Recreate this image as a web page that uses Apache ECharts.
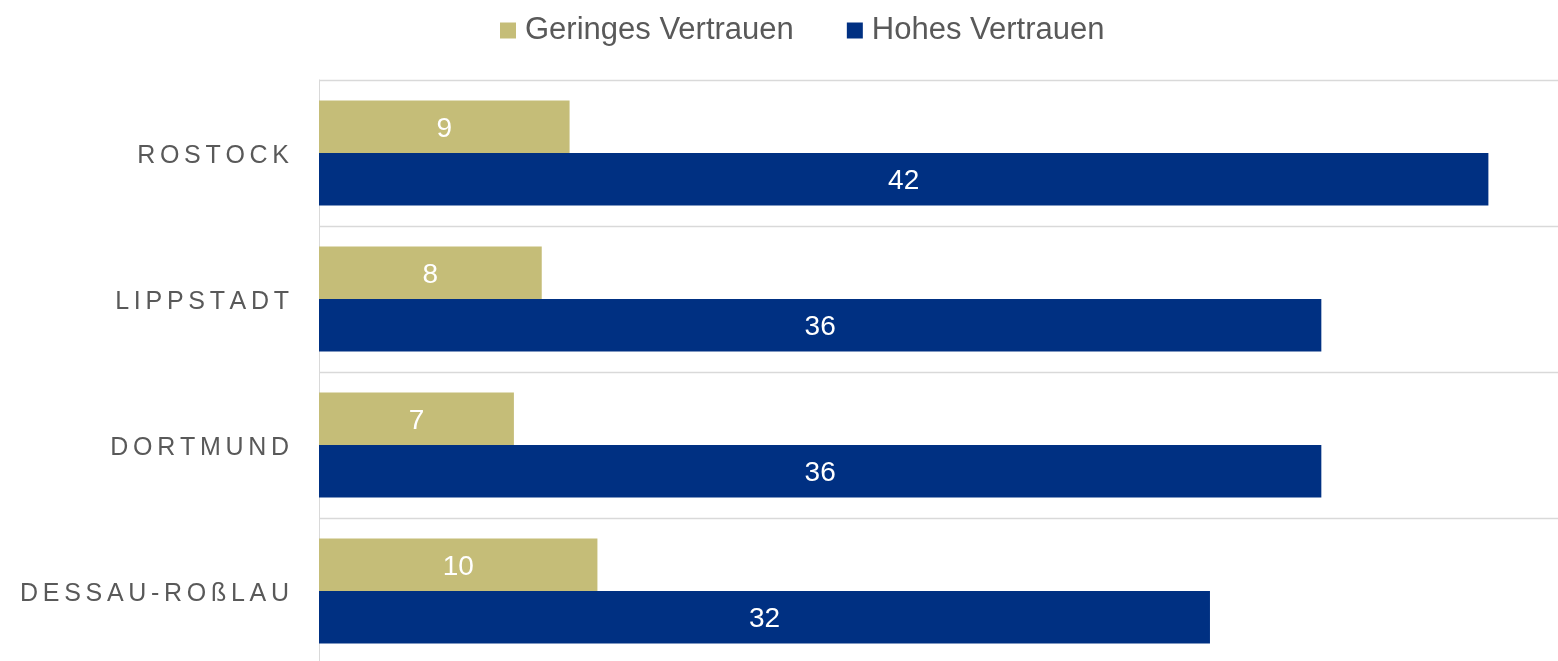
<!DOCTYPE html>
<html>
<head>
<meta charset="utf-8">
<script src="https://cdn.jsdelivr.net/npm/echarts@6/dist/echarts.min.js"></script>
<style>
  html, body { margin: 0; padding: 0; background: #fff; overflow: hidden; }
  /* the source chart is cut off at the bottom, so draw taller and crop */
  #wrap { width: 1558px; height: 661px; overflow: hidden; }
  #chart { width: 1558px; height: 700px; }
</style>
</head>
<body>
<div id="wrap"><div id="chart"></div></div>
<script>
// data
const categories = ['ROSTOCK', 'LIPPSTADT', 'DORTMUND', 'DESSAU-ROßLAU']
const seriesNames = ['Geringes Vertrauen', 'Hohes Vertrauen']
const geringes = [9, 8, 7, 10]
const hohes = [42, 36, 36, 32]

const textGrey = '#595959'
const lineGrey = '#d9d9d9'

// letter spacing for the category labels (canvas has none, so pad with rich spacers)
function spaced(v) {
  return v.split('').join('{s| }')
}

const chart = echarts.init(document.getElementById('chart'))

chart.setOption({
  animation: false,
  textStyle: { fontFamily: '"Liberation Sans", Arial, sans-serif' },
  legend: {
    data: seriesNames,
    left: 495,
    top: 10,
    itemWidth: 16,
    itemHeight: 16,
    itemGap: 53,
    icon: 'rect',
    textStyle: {
      color: textGrey,
      fontSize: 31,
      padding: [0, 0, 0, 4],
    },
  },
  grid: {
    left: 319,
    right: 0,
    top: 80,
    height: 584,
  },
  xAxis: {
    type: 'value',
    min: 0,
    max: 44.5,
    show: false,
    splitLine: { show: false },
  },
  yAxis: {
    type: 'category',
    data: categories,
    inverse: true,
    axisTick: { show: false },
    axisLine: { show: true, lineStyle: { color: lineGrey, width: 1 } },
    splitLine: { show: true, lineStyle: { color: lineGrey, width: 1.3 } },
    axisLabel: {
      color: textGrey,
      fontSize: 25,
      margin: 30,
      padding: [7, 0, 0, 0],
      formatter: spaced,
      rich: {
        s: { width: 4.7, fontSize: 25 },
      },
    },
  },
  series: [
    {
      name: seriesNames[0],
      type: 'bar',
      data: geringes,
      barGap: 0,
      barCategoryGap: '28%',
      itemStyle: { color: '#c5bd78' },
      label: {
        show: true,
        position: 'inside',
        offset: [0, 3],
        color: '#fff',
        fontSize: 28,
      },
    },
    {
      name: seriesNames[1],
      type: 'bar',
      data: hohes,
      barGap: 0,
      barCategoryGap: '28%',
      itemStyle: { color: '#003082' },
      label: {
        show: true,
        position: 'inside',
        offset: [0, 2],
        color: '#fff',
        fontSize: 28,
      },
    },
  ],
})
</script>
</body>
</html>
